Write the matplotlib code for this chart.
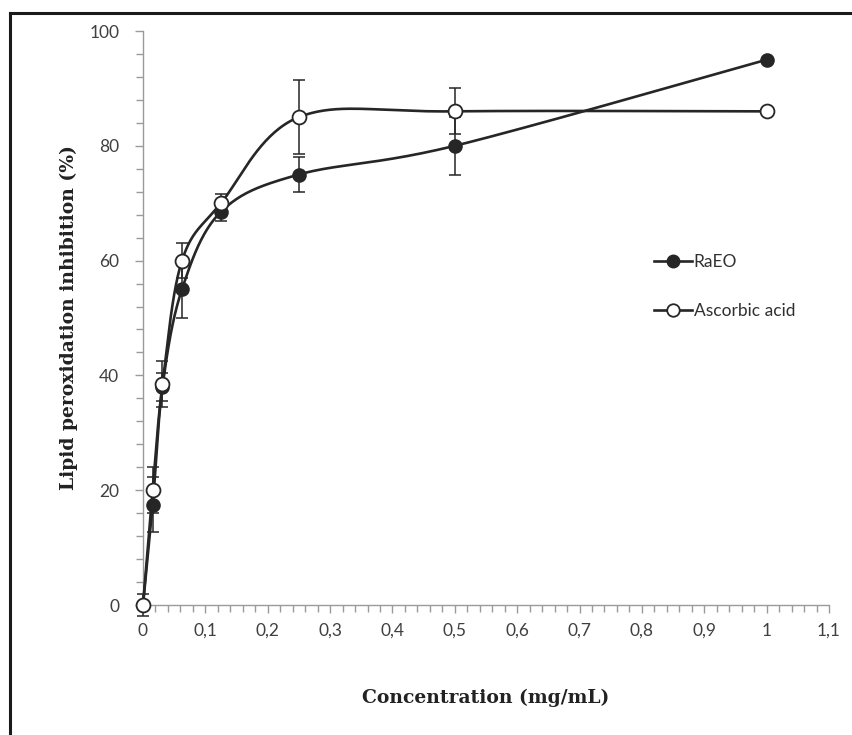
import numpy as np
import matplotlib
matplotlib.use("Agg")
import matplotlib.pyplot as plt
from matplotlib.lines import Line2D

# data
conc = [0, 0.0156, 0.03125, 0.0625, 0.125, 0.25, 0.5, 1]
raeo = [0, 17.5, 38, 55, 68.5, 75, 80, 95]
raeo_err = [2, 4.8, 2.5, 5, 1.6, 3, 5, 0]
asc = [0, 20, 38.5, 60, 70, 85, 86, 86]
asc_err = [0, 4, 4, 3, 1.6, 6.5, 4, 0]

xticks = np.round(np.arange(0, 1.11, 0.1), 1)
xticklabels = [("%g" % v).replace(".", ",") for v in xticks]
yticks = [0, 20, 40, 60, 80, 100]

ink = "#262626"
axis_grey = "#9a9a9a"


def smooth(xs, ys, n=40):
    # excel style smoothed line (bezier with 1/6 tension)
    x = np.asarray(xs, float)
    y = np.asarray(ys, float)
    px, py = [], []
    for i in range(len(x) - 1):
        i0 = max(i - 1, 0)
        i3 = min(i + 2, len(x) - 1)
        c1x = x[i] + (x[i + 1] - x[i0]) / 6
        c1y = y[i] + (y[i + 1] - y[i0]) / 6
        c2x = x[i + 1] - (x[i3] - x[i]) / 6
        c2y = y[i + 1] - (y[i3] - y[i]) / 6
        t = np.linspace(0, 1, n)
        a = (1 - t) ** 3
        b = 3 * (1 - t) ** 2 * t
        c = 3 * (1 - t) * t ** 2
        d = t ** 3
        px.extend(a * x[i] + b * c1x + c * c2x + d * x[i + 1])
        py.extend(a * y[i] + b * c1y + c * c2y + d * y[i + 1])
    return px, py


fig = plt.figure(figsize=(8.52, 7.35), dpi=100)
ax = fig.add_axes([143 / 852, 1 - 605 / 735, (829 - 143) / 852, (605 - 31) / 735])

# outer frame (left and top only visible)
fig.add_artist(Line2D([10 / 852, 10 / 852], [0, 1 - 13 / 735], transform=fig.transFigure,
                      color="#1a1a1a", lw=2.2))
fig.add_artist(Line2D([10 / 852, 1], [1 - 13 / 735, 1 - 13 / 735], transform=fig.transFigure,
                      color="#1a1a1a", lw=2.2))

ax.errorbar(conc, raeo, yerr=raeo_err, fmt="none", ecolor=ink, elinewidth=1.1,
            capsize=4, capthick=1.1, zorder=2, clip_on=False)
ax.errorbar(conc, asc, yerr=asc_err, fmt="none", ecolor=ink, elinewidth=1.1,
            capsize=4, capthick=1.1, zorder=2, clip_on=False)

sx, sy = smooth(conc, raeo)
ax.plot(sx, sy, color=ink, lw=1.9, zorder=3, clip_on=False)
sx, sy = smooth(conc, asc)
ax.plot(sx, sy, color=ink, lw=1.9, zorder=3, clip_on=False)

ax.plot(conc, raeo, "o", color=ink, ms=9.5, mec=ink, zorder=4, clip_on=False)
ax.plot(conc, asc, "o", mfc="white", mec=ink, mew=1.3, ms=10, zorder=5, clip_on=False)

ax.set_xlim(0, 1.1)
ax.set_ylim(0, 100)
ax.set_xticks(xticks)
ax.set_xticklabels(xticklabels)
ax.set_yticks(yticks)
ax.set_xticks(np.arange(0, 1.101, 0.02), minor=True)
ax.set_yticks(np.arange(0, 100.1, 4), minor=True)

for s in ["top", "right"]:
    ax.spines[s].set_visible(False)
for s in ["left", "bottom"]:
    ax.spines[s].set_color(axis_grey)
    ax.spines[s].set_linewidth(1.0)

ax.tick_params(which="both", direction="out", color=axis_grey, width=1.0,
               labelsize=12.5, labelcolor="#404040")
ax.tick_params(which="major", length=6, pad=7)
ax.tick_params(axis="y", which="major", pad=11)
ax.tick_params(which="minor", length=5)
for lab in ax.get_xticklabels() + ax.get_yticklabels():
    lab.set_family("Lato")

ax.set_xlabel("Concentration (mg/mL)", family="DejaVu Serif", fontweight="bold",
              fontsize=13.5, color="#222222", labelpad=36)
ax.set_ylabel("Lipid peroxidation inhibition (%)", family="DejaVu Serif", fontweight="bold",
              fontsize=13.5, color="#222222", labelpad=8)

handles = [
    Line2D([], [], color=ink, lw=1.9, marker="o", ms=9, mfc=ink, mec=ink),
    Line2D([], [], color=ink, lw=1.9, marker="o", ms=9, mfc="white", mec=ink, mew=1.3),
]
leg = ax.legend(handles, ["RaEO", "Ascorbic acid"], loc="upper left",
                bbox_to_anchor=(0.722, 0.638), frameon=False, handlelength=2.2,
                handletextpad=0.1, labelspacing=1.9,
                prop={"family": "Lato", "size": 12.5})
for t in leg.get_texts():
    t.set_color("#303030")

fig.savefig("out.png", dpi=100)
